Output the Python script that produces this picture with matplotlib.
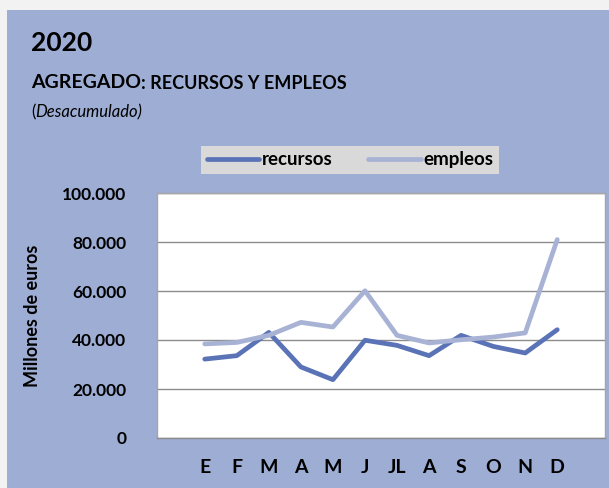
import matplotlib.pyplot as plt
from matplotlib.patches import Rectangle

plt.rcParams['font.family'] = ['Lato', 'DejaVu Sans']

meses = ['E', 'F', 'M', 'A', 'M', 'J', 'JL', 'A', 'S', 'O', 'N', 'D']
recursos = [32200, 33600, 43100, 29000, 23800, 39900, 37800, 33600, 41900, 37400, 34700, 44200]
empleos = [38400, 39000, 41900, 47200, 45300, 60100, 41900, 38800, 40100, 41200, 42900, 81000]
y_ticks = [0, 20000, 40000, 60000, 80000, 100000]

W, H = 609, 488
fig = plt.figure(figsize=(W / 100, H / 100), dpi=100, facecolor='#f2f2f2')

# fondo azul del panel
fig.patches.append(Rectangle((7 / W, 0), 1, 1 - 10 / H, transform=fig.transFigure,
                             facecolor='#9dadd3', edgecolor='none', zorder=-10))

ax = fig.add_axes([157 / W, 1 - 438 / H, (605 - 157) / W, (438 - 193) / H])
ax.set_facecolor('white')

x = list(range(len(meses)))
ax.plot(x, recursos, color='#5a72b6', lw=3.4, solid_capstyle='round', label='recursos', zorder=3)
ax.plot(x, empleos, color='#a8b2d5', lw=3.4, solid_capstyle='round', label='empleos', zorder=3)

ax.set_xlim(-1.49, len(meses) - 1 + 1.49)
ax.set_ylim(0, 100000)
ax.set_yticks(y_ticks)
ax.set_yticklabels([f'{v:,}'.replace(',', '.') for v in y_ticks], fontsize=12.5, fontweight='bold')
ax.set_xticks(x)
ax.set_xticklabels(meses, fontsize=14, fontweight='bold')
ax.tick_params(length=0)
ax.tick_params(axis='x', pad=15)
ax.tick_params(axis='y', pad=22)
ax.grid(axis='y', color='#8c8c8c', lw=1)
ax.set_axisbelow(True)
for s in ax.spines.values():
    s.set_color('#a6a6a6')
    s.set_linewidth(1)
ax.spines['bottom'].set_color('#8c8c8c')

fig.text(31 / W, 1 - 43 / H, '2020', fontsize=19, fontweight='bold', va='center')
t1 = fig.text(31 / W, 1 - 83 / H, 'AGREGADO', fontsize=14, fontweight='bold', va='center')
ax.annotate(': RECURSOS Y EMPLEOS', xy=(1, 0.45), xycoords=t1, fontsize=13, fontweight='bold',
            va='center', ha='left', annotation_clip=False)
t2 = fig.text(31 / W, 1 - 112 / H, '(', fontsize=12, va='center')
ax.annotate('Desacumulado)', xy=(1, 0.5), xycoords=t2, fontsize=12, style='italic',
            va='center', ha='left', annotation_clip=False)

fig.text(33 / W, 1 - 316 / H, 'Millones de euros', fontsize=13, fontweight='bold',
         rotation=90, ha='center', va='center')

leg = fig.legend(loc='center', bbox_to_anchor=(350 / W, 1 - 160 / H), ncol=2, frameon=True,
                 fancybox=False, facecolor='#d9d9d9', edgecolor='none', framealpha=1,
                 prop={'size': 13.5, 'weight': 'bold'}, handlelength=2.8, handletextpad=0.15,
                 columnspacing=1.9, borderpad=0.3, borderaxespad=0)

plt.savefig('out.png', dpi=100, facecolor=fig.get_facecolor())
